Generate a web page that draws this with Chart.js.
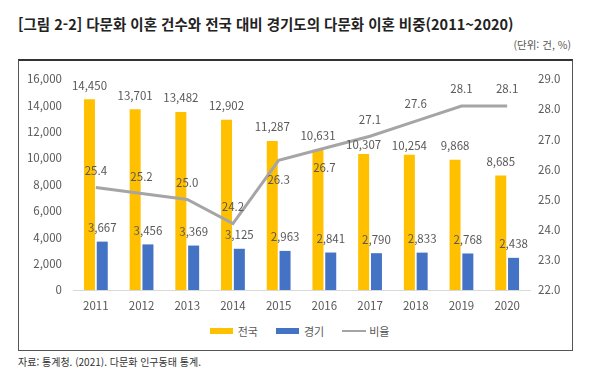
<!DOCTYPE html>
<html lang="ko">
<head>
<meta charset="utf-8">
<script src="https://cdn.jsdelivr.net/npm/chart.js@4"></script>
<style>
  body { margin: 0; width: 600px; height: 371px; background: #fff; position: relative; overflow: hidden;
         font-family: "Noto Sans CJK KR", "Noto Sans", sans-serif; }
  #title { position: absolute; left: 18px; top: 13px; font-size: 14.5px; font-weight: bold; color: #222; white-space: nowrap; }
  #unit { position: absolute; right: 29px; top: 37px; font-size: 10.5px; color: #555; }
  #box { position: absolute; left: 18px; top: 59px; width: 553px; height: 289px;
         border-top: 2px solid #333; border-left: 1.5px solid #555; border-right: 1.5px solid #555; border-bottom: 1.5px solid #555; }
  #wrap { position: absolute; left: 0; top: 0; width: 553px; height: 257px; }
  #legend { position: absolute; left: 4px; width: 553px; top: 262px; display: flex; justify-content: center;
            font-size: 11px; color: #595959; align-items: center; }
  .item { display: flex; align-items: center; margin: 0 9px; }
  .sw { width: 23px; height: 6px; margin-right: 5px; }
  .ln { width: 24px; height: 2.5px; margin-right: 3px; background: #A5A5A5; }
  #source { position: absolute; left: 18px; top: 354px; font-size: 10px; color: #333; }
</style>
</head>
<body>
<div id="title">[그림 2-2] 다문화 이혼 건수와 전국 대비 경기도의 다문화 이혼 비중(2011~2020)</div>
<div id="unit">(단위: 건, %)</div>
<div id="box">
  <div id="wrap"><canvas id="chart"></canvas></div>
  <div id="legend">
    <div class="item"><div class="sw" style="background:#FFC000"></div>전국</div>
    <div class="item"><div class="sw" style="background:#4472C4"></div>경기</div>
    <div class="item"><div class="ln"></div>비율</div>
  </div>
</div>
<div id="source">자료: 통계청. (2021). 다문화 인구동태 통계.</div>
<script>
// 데이터
const years = ["2011", "2012", "2013", "2014", "2015", "2016", "2017", "2018", "2019", "2020"];
const national = [14450, 13701, 13482, 12902, 11287, 10631, 10307, 10254, 9868, 8685];
const gyeonggi = [3667, 3456, 3369, 3125, 2963, 2841, 2790, 2833, 2768, 2438];
const ratio = [25.4, 25.2, 25.0, 24.2, 26.3, 26.7, 27.1, 27.6, 28.1, 28.1];
const leftTicks = [0, 2000, 4000, 6000, 8000, 10000, 12000, 14000, 16000];
const rightTicks = [22, 23, 24, 25, 26, 27, 28, 29];

// 라벨 위치 예외
const ratioBelow = ["2015", "2016"];
const nationalNear = ["2017", "2018"];

const labelColor = "#595959";
const tickFont = { family: "'Noto Sans CJK KR', 'Noto Sans', sans-serif", size: 11.5 };

const valueLabels = {
  id: "valueLabels",
  afterDatasetsDraw(chart) {
    const ctx = chart.ctx;
    ctx.save();
    ctx.font = "11.5px 'Noto Sans CJK KR', 'Noto Sans', sans-serif";
    ctx.fillStyle = labelColor;
    ctx.textAlign = "center";
    ctx.textBaseline = "middle";
    chart.data.datasets.forEach((ds, i) => {
      const meta = chart.getDatasetMeta(i);
      meta.data.forEach((el, j) => {
        const v = ds.data[j];
        if (ds.type === "line") {
          const below = ratioBelow.includes(years[j]);
          ctx.fillText(v.toFixed(1), el.x, below ? el.y + 19 : el.y - 17);
        } else {
          const near = ds.label === "전국" && nationalNear.includes(years[j]);
          ctx.fillText(v.toLocaleString("en-US"), el.x, el.y - (near ? 9 : 14));
        }
      });
    });
    ctx.restore();
  }
};

const ctx = document.getElementById("chart").getContext("2d");
new Chart(ctx, {
  data: {
    labels: years,
    datasets: [
      {
        type: "line",
        label: "비율",
        data: ratio,
        yAxisID: "y1",
        borderColor: "#A5A5A5",
        borderWidth: 3,
        pointRadius: 0,
        tension: 0,
        order: 0,
      },
      {
        type: "bar",
        label: "전국",
        data: national,
        yAxisID: "y",
        backgroundColor: "#FFC000",
        categoryPercentage: 0.56,
        barPercentage: 0.86,
        order: 1,
      },
      {
        type: "bar",
        label: "경기",
        data: gyeonggi,
        yAxisID: "y",
        backgroundColor: "#4472C4",
        categoryPercentage: 0.56,
        barPercentage: 0.86,
        order: 1,
      },
    ],
  },
  options: {
    responsive: true,
    maintainAspectRatio: false,
    animation: false,
    layout: { padding: { top: 12, left: 0, right: 0, bottom: 0 } },
    plugins: { legend: { display: false }, tooltip: { enabled: false } },
    scales: {
      x: {
        grid: { display: false, drawTicks: false },
        border: { display: true, color: "#d9d9d9", width: 1 },
        ticks: { color: labelColor, font: tickFont, padding: 9, maxRotation: 0 },
        afterFit(scale) { scale.height = 28; },
      },
      y: {
        position: "left",
        min: 0,
        max: 16000,
        afterBuildTicks(scale) { scale.ticks = leftTicks.map((v) => ({ value: v })); },
        grid: { display: false, drawTicks: false },
        border: { display: false },
        ticks: {
          color: labelColor,
          font: tickFont,
          padding: 11,
          callback: (v) => v.toLocaleString("en-US"),
        },
        afterFit(scale) { scale.width = 54; },
      },
      y1: {
        position: "right",
        min: 22,
        max: 29,
        afterBuildTicks(scale) { scale.ticks = rightTicks.map((v) => ({ value: v })); },
        grid: { display: false, drawTicks: false },
        border: { display: false },
        ticks: {
          color: labelColor,
          font: tickFont,
          padding: 8,
          callback: (v) => Number(v).toFixed(1),
        },
        afterFit(scale) { scale.width = 42; },
      },
    },
  },
  plugins: [valueLabels],
});
</script>
</body>
</html>
